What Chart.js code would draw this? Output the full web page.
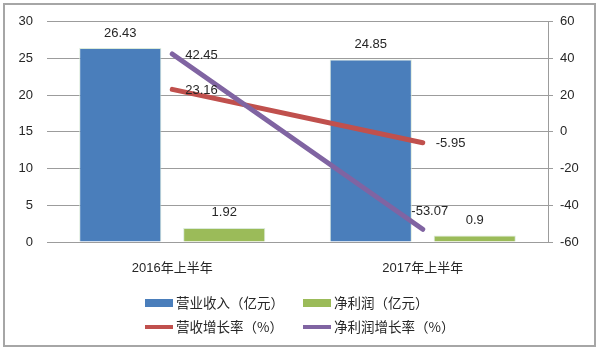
<!DOCTYPE html>
<html>
<head>
<meta charset="utf-8">
<script src="https://cdn.jsdelivr.net/npm/chart.js@4.4.1/dist/chart.umd.min.js"></script>
<style>
  html, body { margin: 0; padding: 0; background: #fff; }
  #wrap { position: relative; width: 600px; height: 351px; }
  #frame { position: absolute; left: 3px; top: 3px; width: 593px; height: 344px; border: 2px solid #a6a6a6; box-sizing: border-box; }
  canvas { position: absolute; left: 0; top: 0; }
</style>
</head>
<body>
<div id="wrap">
  <div id="frame"></div>
  <canvas id="chart" width="600" height="351"></canvas>
</div>
<script>
// chart data
const categories = ["2016年上半年", "2017年上半年"];
const revenue = [26.43, 24.85];        // 营业收入（亿元）
const netProfit = [1.92, 0.9];         // 净利润（亿元）
const revenueGrowth = [23.16, -5.95];  // 营收增长率（%）
const profitGrowth = [42.45, -53.07];  // 净利润增长率（%）
const leftTicks = [0, 5, 10, 15, 20, 25, 30];
const rightTicks = [-60, -40, -20, 0, 20, 40, 60];

const FONT = "'Liberation Sans', 'Noto Sans CJK SC', sans-serif";
const TEXT = "#262626";
const GRID = "#9c9c9c";

Chart.defaults.font.family = FONT;
Chart.defaults.font.size = 13;
Chart.defaults.color = TEXT;

// value labels on bars and line ends
const valueLabels = {
  id: "valueLabels",
  afterDatasetsDraw(chart) {
    const ctx = chart.ctx;
    ctx.save();
    ctx.font = "13px " + FONT;
    ctx.fillStyle = TEXT;
    ctx.textBaseline = "middle";
    chart.data.datasets.forEach((ds, i) => {
      const meta = chart.getDatasetMeta(i);
      meta.data.forEach((el, j) => {
        const txt = String(ds.data[j]);
        if (ds.type === "bar") {
          ctx.textAlign = "center";
          ctx.fillText(txt, el.x, el.y - 15);
        } else if (ds.labelAbove && ds.labelAbove[j]) {
          ctx.textAlign = "center";
          ctx.fillText(txt, el.x + 7, el.y - 18);
        } else {
          ctx.textAlign = "left";
          ctx.fillText(txt, el.x + 13, el.y + 1);
        }
      });
    });
    ctx.restore();
  }
};

// two-column legend under the plot
const gridLegend = {
  id: "gridLegend",
  afterDraw(chart) {
    const ctx = chart.ctx;
    const cols = [145, 303];
    const rows = [303, 327];
    ctx.save();
    chart.data.datasets.forEach((ds, i) => {
      const x = cols[i % 2];
      const y = rows[Math.floor(i / 2)];
      if (ds.type === "line") {
        ctx.strokeStyle = ds.borderColor;
        ctx.lineWidth = 4;
        ctx.beginPath();
        ctx.moveTo(x, y);
        ctx.lineTo(x + 28, y);
        ctx.stroke();
      } else {
        ctx.fillStyle = ds.backgroundColor;
        ctx.fillRect(x, y - 4, 28, 8);
      }
      ctx.fillStyle = TEXT;
      ctx.font = "13.5px 'Noto Sans CJK SC', sans-serif";
      ctx.textAlign = "left";
      ctx.textBaseline = "middle";
      ctx.fillText(ds.label, x + 31, y);
    });
    ctx.restore();
  }
};

new Chart(document.getElementById("chart"), {
  data: {
    labels: categories,
    datasets: [
      {
        type: "bar",
        label: "营业收入（亿元）",
        data: revenue,
        backgroundColor: "#4a7ebb",
        borderColor: "rgba(214,232,214,0.9)",
        borderWidth: 1,
        yAxisID: "y",
        order: 2
      },
      {
        type: "bar",
        label: "净利润（亿元）",
        data: netProfit,
        backgroundColor: "#9bbb59",
        borderColor: "rgba(214,232,214,0.9)",
        borderWidth: 1,
        yAxisID: "y",
        order: 2
      },
      {
        type: "line",
        label: "营收增长率（%）",
        data: revenueGrowth,
        borderColor: "#c0504d",
        backgroundColor: "#c0504d",
        borderWidth: 5,
        borderCapStyle: "round",
        pointRadius: 0,
        tension: 0,
        yAxisID: "y1",
        order: 1
      },
      {
        type: "line",
        label: "净利润增长率（%）",
        data: profitGrowth,
        borderColor: "#8064a2",
        backgroundColor: "#8064a2",
        borderWidth: 5,
        borderCapStyle: "round",
        pointRadius: 0,
        tension: 0,
        yAxisID: "y1",
        order: 0,
        labelAbove: [false, true]
      }
    ]
  },
  options: {
    responsive: false,
    animation: false,
    datasets: {
      bar: { categoryPercentage: 0.83, barPercentage: 0.79 }
    },
    layout: { padding: { left: 0, right: 17, top: 19, bottom: 69 } },
    plugins: {
      legend: { display: false },
      tooltip: { enabled: false }
    },
    scales: {
      x: {
        grid: { display: false },
        border: { display: false },
        ticks: { padding: 11, color: TEXT },
        afterFit(s) { s.height = 40; }
      },
      y: {
        position: "left",
        min: leftTicks[0],
        max: leftTicks[leftTicks.length - 1],
        ticks: { stepSize: leftTicks[1] - leftTicks[0], padding: 14, color: TEXT },
        grid: { color: GRID, drawTicks: false },
        border: { display: false },
        afterFit(s) { s.width = 47; }
      },
      y1: {
        position: "right",
        min: rightTicks[0],
        max: rightTicks[rightTicks.length - 1],
        ticks: { stepSize: rightTicks[1] - rightTicks[0], padding: 7, color: TEXT },
        grid: { drawOnChartArea: false, tickLength: 5, color: GRID },
        border: { display: true, color: GRID },
        afterFit(s) { s.width = 35; }
      }
    }
  },
  plugins: [valueLabels, gridLegend]
});
</script>
</body>
</html>
